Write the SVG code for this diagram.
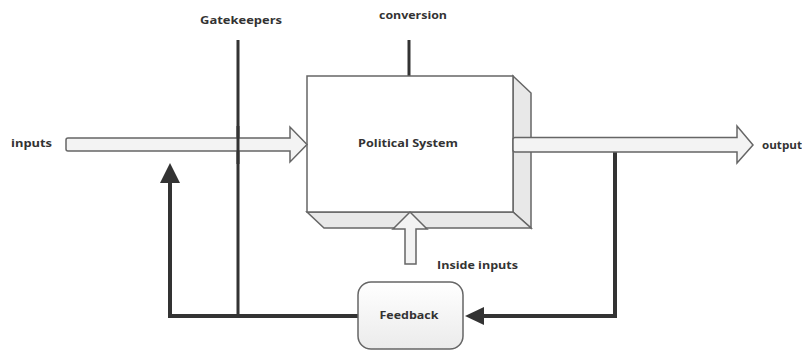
<svg xmlns="http://www.w3.org/2000/svg" width="802" height="351" viewBox="0 0 802 351">
<defs>
<linearGradient id="fb" x1="0" y1="0" x2="0" y2="1"><stop offset="0" stop-color="#ffffff"/><stop offset="1" stop-color="#ebebeb"/></linearGradient>
</defs>
<style>
.t{font-family:"Open Sans","Liberation Sans",sans-serif;font-size:11px;font-weight:bold;fill:#333}
.c{text-anchor:middle}
.arr{fill:#f3f3f3;stroke:#666;stroke-width:1.5;stroke-linejoin:miter}
.ln{fill:none;stroke:#333;stroke-width:3}
.fl{fill:none;stroke:#333;stroke-width:4}
.hd{fill:#333}
</style>
<rect width="802" height="351" fill="#fff"/>
<g id="connectors">
<line class="ln" x1="409" y1="40" x2="409" y2="76"/>
<line class="ln" x1="238" y1="40" x2="238" y2="316"/>
<polyline class="fl" points="615,152 615,316 483,316"/>
<polygon class="hd" points="465,316 484,307 484,325"/>
<polyline class="fl" points="358,316 170,316 170,180"/>
<polygon class="hd" points="170,163 160,183 180,183"/>
</g>
<g id="political-system">
<polygon points="513,76 531,93 531,228 513,212" fill="#e8e8e8" stroke="#666" stroke-width="1.5"/>
<polygon points="307,212 513,212 531,228 324,228" fill="#e8e8e8" stroke="#666" stroke-width="1.5"/>
<rect x="307" y="76" width="206" height="136" fill="#fff" stroke="#666" stroke-width="1.5"/>
<text class="t c" x="408" y="147" textLength="100" lengthAdjust="spacingAndGlyphs">Political System</text>
</g>
<g id="inputs">
<path class="arr" d="M68,138 L290,138 L290,127 L307,144.5 L290,162 L290,151 L68,151 Q66,151 66,149 L66,140 Q66,138 68,138 z"/>
<text class="t" x="11" y="147" textLength="41" lengthAdjust="spacingAndGlyphs">inputs</text>
</g>
<line class="ln" x1="238" y1="126" x2="238" y2="164"/>
<g id="output">
<path class="arr" d="M515,137.5 L737,137.5 L737,126 L753,145 L737,163 L737,152 L515,152 Q513,152 513,150 L513,139.5 Q513,137.5 515,137.5 z"/>
<text class="t" x="762" y="149" textLength="40" lengthAdjust="spacingAndGlyphs">output</text>
</g>
<g id="inside-inputs">
<path class="arr" d="M405,264 L405,229 L393,229 L410,212 L427,229 L416,229 L416,264 z"/>
<text class="t" x="437" y="269" textLength="81" lengthAdjust="spacingAndGlyphs">Inside inputs</text>
</g>
<g id="gatekeepers">
<text class="t c" x="241" y="24" textLength="82" lengthAdjust="spacingAndGlyphs">Gatekeepers</text>
</g>
<g id="conversion">
<text class="t c" x="413" y="19" textLength="68" lengthAdjust="spacingAndGlyphs">conversion</text>
</g>
<g id="feedback">
<rect x="358" y="282" width="105" height="67" rx="13" fill="url(#fb)" stroke="#666" stroke-width="1.5"/>
<text class="t c" x="409" y="319" textLength="59" lengthAdjust="spacingAndGlyphs">Feedback</text>
</g>
</svg>
